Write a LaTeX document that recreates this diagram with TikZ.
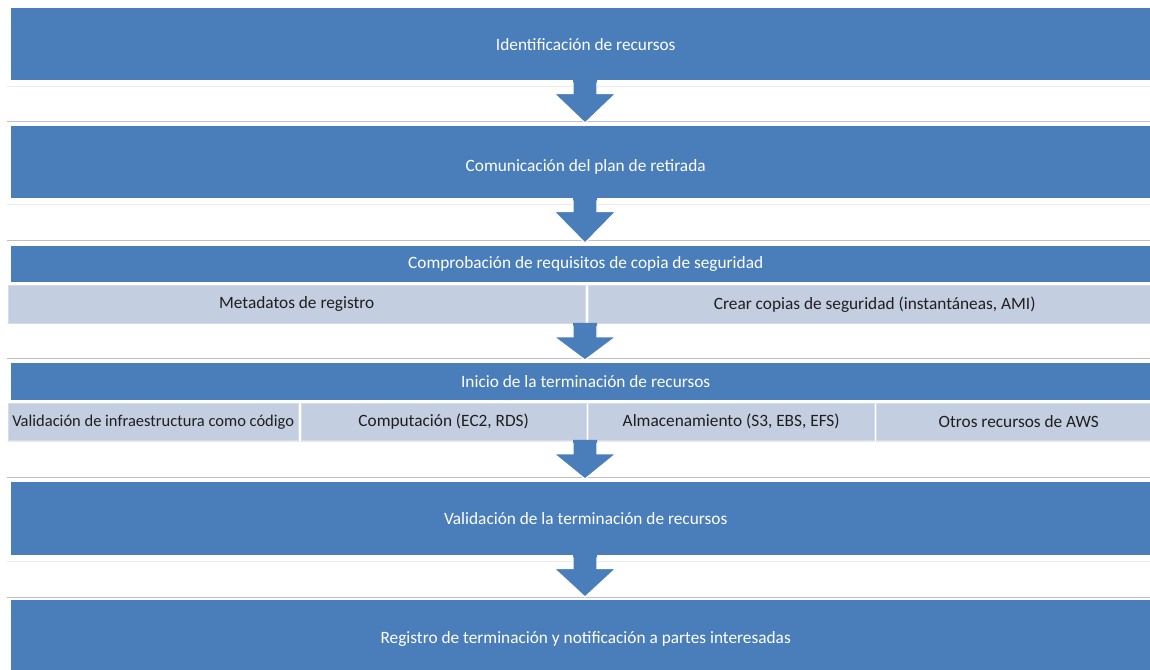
\documentclass[tikz,border=0pt]{standalone}
\usepackage{fontspec}
\setmainfont{Carlito}
\usetikzlibrary{calc}
\definecolor{boxblue}{RGB}{74,126,187}
\definecolor{subfill}{RGB}{196,206,225}
\definecolor{subline}{RGB}{212,219,233}
\tikzset{
  stepbox/.style={fill=boxblue, draw=none, text=white, anchor=north west, inner sep=0pt,
    font=\fontsize{17.3}{19}\selectfont},
  subcell/.style={fill=subfill, draw=subline, line width=1.2pt, text=black!88, anchor=north west,
    inner sep=0pt, font=\fontsize{17.3}{19}\selectfont},
  bandtop/.style={draw=black!8, line width=0.8pt},
  bandbottom/.style={draw=black!25, line width=0.8pt},
  arrowbody/.style={fill=boxblue},
  arrowedge/.style={draw=white, line width=1.2pt, line join=miter}
}
\newcommand{\flowarrow}[2]{%
  \fill[arrowbody] let \p1=(#1.south), \p2=(#2.north) in
    (573pt,\y1+1pt) -- (573pt,\y1-13pt) -- (554pt,\y1-13pt) -- (585pt,\y2+3pt)
    -- (616pt,\y1-13pt) -- (597pt,\y1-13pt) -- (597pt,\y1+1pt) -- cycle;
  \draw[arrowedge] let \p1=(#1.south), \p2=(#2.north) in
    (573pt,\y1-2pt) -- (573pt,\y1-13pt) -- (554pt,\y1-13pt) -- (585pt,\y2+3pt)
    -- (616pt,\y1-13pt) -- (597pt,\y1-13pt) -- (597pt,\y1-2pt);
}
\begin{document}
\begin{tikzpicture}[x=1pt,y=-1pt]
\useasboundingbox (0,0) rectangle (1150,669);
\clip (0,0) rectangle (1150,669);

% bands
\foreach \t/\b in {86/121, 204/240, 323/358, 441/477, 561/597}{
  \draw[bandtop] (7,\t) -- (1150,\t);
  \draw[bandbottom] (7,\b) -- (1150,\b);
}

\node[stepbox, minimum width=1149pt, minimum height=72pt] (b1) at (11,8) {Identificación de recursos};
\node[stepbox, minimum width=1149pt, minimum height=72pt] (b2) at (11,126) {\raisebox{-3pt}[\height][0pt]{Comunicación del plan de retirada}};
\node[stepbox, minimum width=1149pt, minimum height=36pt] (b3) at (11,246) {Comprobación de requisitos de copia de seguridad};
\node[subcell, minimum width=577pt, minimum height=38pt] (b3a) at (7.6,284.6) {Metadatos de registro};
\node[subcell, minimum width=573pt, minimum height=38pt] (b3b) at (587.6,284.6) {Crear copias de seguridad (instantáneas, AMI)};
\node[stepbox, minimum width=1149pt, minimum height=37pt] (b4) at (11,363) {Inicio de la terminación de recursos};
\node[subcell, minimum width=290pt, minimum height=37pt, font=\fontsize{16.5}{18}\selectfont] (b4a) at (7.6,402.6) {Validación de infraestructura como código};
\node[subcell, minimum width=285pt, minimum height=37pt] (b4b) at (300.6,402.6) {Computación (EC2, RDS)};
\node[subcell, minimum width=286pt, minimum height=37pt] (b4c) at (587.6,402.6) {Almacenamiento (S3, EBS, EFS)};
\node[subcell, minimum width=285pt, minimum height=37pt] (b4d) at (875.6,402.6) {Otros recursos de AWS};
\node[stepbox, minimum width=1149pt, minimum height=73pt] (b5) at (11,482) {Validación de la terminación de recursos};
\node[stepbox, minimum width=1149pt, minimum height=72pt] (b6) at (11,600) {\raisebox{-1pt}[\height][0pt]{Registro de terminación y notificación a partes interesadas}};

\flowarrow{b1}{b2}
\flowarrow{b2}{b3}
\flowarrow{b3a}{b4}
\flowarrow{b4a}{b5}
\flowarrow{b5}{b6}
\end{tikzpicture}
\end{document}
